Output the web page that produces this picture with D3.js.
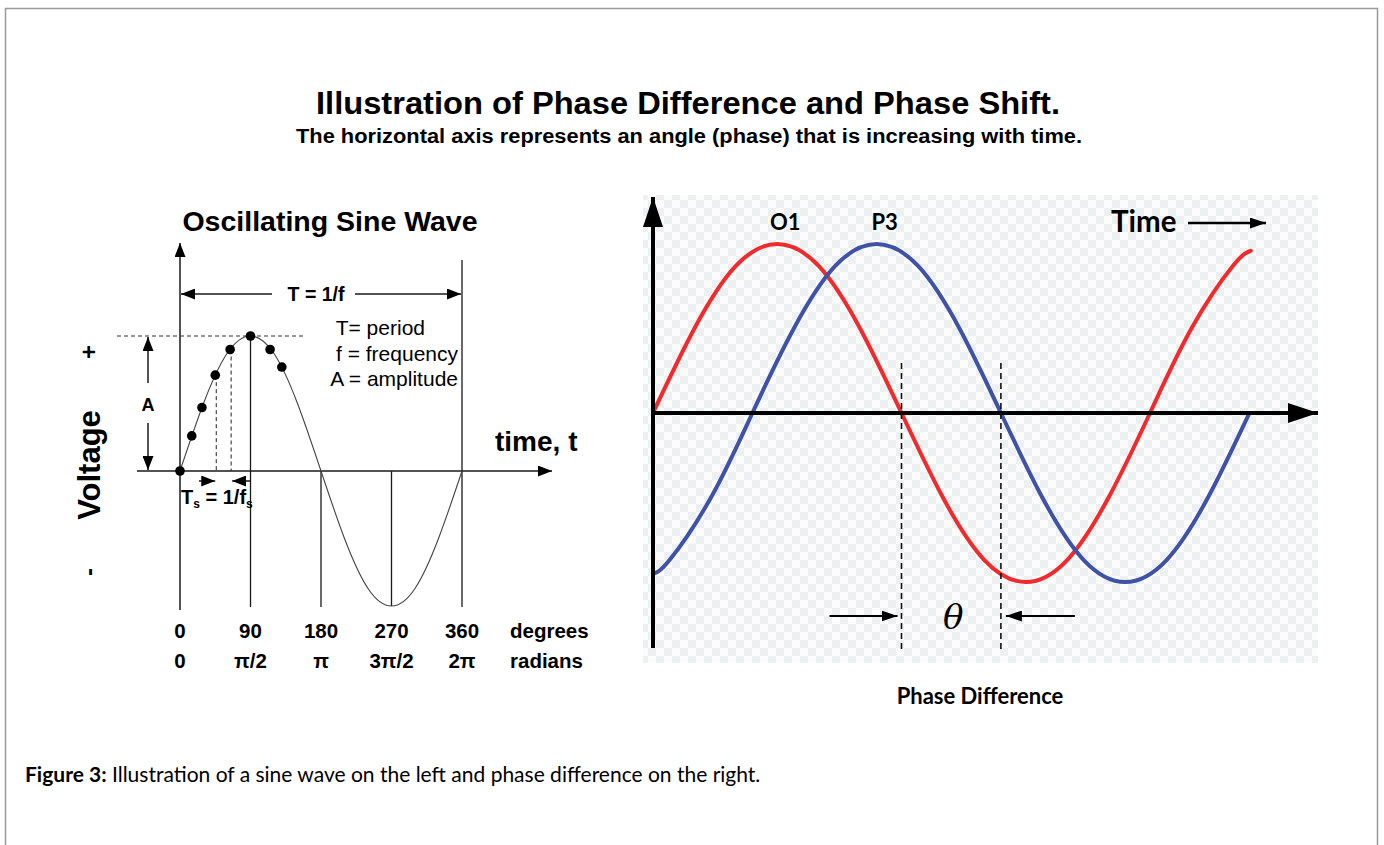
<!DOCTYPE html>
<html>
<head>
<meta charset="utf-8">
<script src="https://cdn.jsdelivr.net/npm/d3@7"></script>
<style>
  body { margin: 0; background: #fff; }
  svg { display: block; }
</style>
</head>
<body>
<svg id="chart" width="1384" height="845"></svg>
<script>
// ---- left panel: one cycle of the oscillating wave (read every 30 degrees)
var leftDegrees = [0, 30, 60, 90, 120, 150, 180, 210, 240, 270, 300, 330, 360];
var leftValues = [0, 0.5, 0.87, 1, 0.87, 0.5, 0, -0.5, -0.87, -1, -0.87, -0.5, 0];
// sample points (dots) on the rising part
var sampleDegrees = [0, 15, 28, 45, 64, 90, 115, 130];
var sampleValues = [0, 0.26, 0.47, 0.71, 0.9, 1, 0.9, 0.77];
var degreeTicks = [0, 90, 180, 270, 360];
var degreeLabels = ["0", "90", "180", "270", "360"];
var radianLabels = ["0", "\u03c0/2", "\u03c0", "3\u03c0/2", "2\u03c0"];
var legendLines = ["T= period", "f = frequency", "A = amplitude"];

// ---- right panel: two waves, P3 lags O1
var redDegrees = [0, 30, 60, 90, 120, 150, 180, 210, 240, 270, 300, 330, 360, 390, 420, 433];
var redValues = [0, 0.5, 0.87, 1, 0.87, 0.5, 0, -0.5, -0.87, -1, -0.87, -0.5, 0, 0.5, 0.87, 0.96];
var blueDegrees = [0, 12, 42, 72, 102, 132, 162, 192, 222, 252, 282, 312, 342, 372, 402, 432];
var blueValues = [-0.95, -0.87, -0.5, 0, 0.5, 0.87, 1, 0.87, 0.5, 0, -0.5, -0.87, -1, -0.87, -0.5, 0];
var phaseMarks = [180, 252];          // zero crossings of O1 and P3
var waveNames = ["O1", "P3"];
var wavePeaks = [90, 162];
var waveColors = ["#ef2b2d", "#4052a6"];

var arial = "'Liberation Sans', Arial, sans-serif";
var calibri = "Lato, 'Open Sans', sans-serif";

var svg = d3.select("#chart");

// arrow heads
var defs = svg.append("defs");
function marker(id, len, wid) {
  defs.append("marker")
    .attr("id", id)
    .attr("markerUnits", "userSpaceOnUse")
    .attr("viewBox", "0 0 " + len + " " + wid)
    .attr("refX", len).attr("refY", wid / 2)
    .attr("markerWidth", len).attr("markerHeight", wid)
    .attr("orient", "auto-start-reverse")
    .append("path")
    .attr("d", "M0,0L" + len + "," + (wid / 2) + "L0," + wid + "Z")
    .attr("fill", "#000");
}
marker("arrS", 14, 11);
marker("arrL", 30, 20);
marker("arrM", 16, 11);

var pat = defs.append("pattern")
  .attr("id", "checker")
  .attr("patternUnits", "userSpaceOnUse")
  .attr("width", 16).attr("height", 16);
pat.append("rect").attr("width", 16).attr("height", 16).attr("fill", "#fcfcfc");
pat.append("rect").attr("width", 8).attr("height", 8).attr("fill", "#edf0f0");
pat.append("rect").attr("x", 8).attr("y", 8).attr("width", 8).attr("height", 8).attr("fill", "#edf0f0");

// frame
svg.append("rect")
  .attr("x", 5.5).attr("y", 8.5)
  .attr("width", 1372).attr("height", 900)
  .attr("fill", "none").attr("stroke", "#9a9a9a").attr("stroke-width", 1.5);

// titles
svg.append("text")
  .attr("x", 688).attr("y", 114)
  .attr("text-anchor", "middle")
  .attr("font-family", arial).attr("font-weight", "bold").attr("font-size", 32)
  .attr("textLength", 744).attr("lengthAdjust", "spacingAndGlyphs")
  .text("Illustration of Phase Difference and Phase Shift.");
svg.append("text")
  .attr("x", 689).attr("y", 143)
  .attr("text-anchor", "middle")
  .attr("font-family", arial).attr("font-weight", "bold").attr("font-size", 19.5)
  .attr("textLength", 786).attr("lengthAdjust", "spacingAndGlyphs")
  .text("The horizontal axis represents an angle (phase) that is increasing with time.");

// ================= LEFT PANEL =================
var xL = d3.scaleLinear().domain([0, 360]).range([180, 462]);
var yL = d3.scaleLinear().domain([-1, 1]).range([606, 336]);
var left = svg.append("g").attr("stroke-linecap", "butt");
var ink = "#1a1a1a";

left.append("text")
  .attr("x", 330).attr("y", 231)
  .attr("text-anchor", "middle")
  .attr("font-family", arial).attr("font-weight", "bold").attr("font-size", 28.5)
  .text("Oscillating Sine Wave");

// axes
left.append("line")
  .attr("x1", xL(0)).attr("x2", xL(0)).attr("y1", 610).attr("y2", 243)
  .attr("stroke", ink).attr("stroke-width", 1.5)
  .attr("marker-end", "url(#arrS)");
left.append("line")
  .attr("x1", 137).attr("x2", 552).attr("y1", yL(0)).attr("y2", yL(0))
  .attr("stroke", ink).attr("stroke-width", 1.5)
  .attr("marker-end", "url(#arrS)");

// guide verticals
var guideTop = { 90: yL(1), 180: yL(0), 270: yL(0), 360: 260 };
var guideBottom = { 90: 607, 180: 607, 270: yL(-1), 360: 607 };
left.selectAll("line.guide")
  .data(degreeTicks.slice(1))
  .enter().append("line")
  .attr("class", "guide")
  .attr("x1", function (d) { return xL(d); })
  .attr("x2", function (d) { return xL(d); })
  .attr("y1", function (d) { return guideTop[d]; })
  .attr("y2", function (d) { return guideBottom[d]; })
  .attr("stroke", ink).attr("stroke-width", 1.3);

// amplitude dashed level
left.append("line")
  .attr("x1", 117).attr("x2", 305).attr("y1", yL(1)).attr("y2", yL(1))
  .attr("stroke", "#333").attr("stroke-width", 1).attr("stroke-dasharray", "4,3");

// the wave
var lineL = d3.line()
  .x(function (d) { return xL(d[0]); })
  .y(function (d) { return yL(d[1]); })
  .curve(d3.curveNatural);
left.append("path")
  .datum(d3.zip(leftDegrees, leftValues))
  .attr("d", lineL)
  .attr("fill", "none").attr("stroke", "#444").attr("stroke-width", 1.1);

// sampling interval dashes
left.selectAll("line.ts")
  .data([3, 4])
  .enter().append("line")
  .attr("x1", function (i) { return xL(sampleDegrees[i]) + 1; })
  .attr("x2", function (i) { return xL(sampleDegrees[i]) + 1; })
  .attr("y1", function (i) { return yL(sampleValues[i]); })
  .attr("y2", yL(0))
  .attr("stroke", "#222").attr("stroke-width", 1).attr("stroke-dasharray", "4,3");

left.selectAll("circle.sample")
  .data(d3.zip(sampleDegrees, sampleValues))
  .enter().append("circle")
  .attr("cx", function (d) { return xL(d[0]); })
  .attr("cy", function (d) { return yL(d[1]); })
  .attr("r", 4.8)
  .attr("fill", "#000");

// Ts arrows
left.append("line")
  .attr("x1", 199).attr("x2", xL(sampleDegrees[3])).attr("y1", 481).attr("y2", 481)
  .attr("stroke", ink).attr("stroke-width", 1.5).attr("marker-end", "url(#arrS)");
left.append("line")
  .attr("x1", 251).attr("x2", xL(sampleDegrees[4]) + 2).attr("y1", 481).attr("y2", 481)
  .attr("stroke", ink).attr("stroke-width", 1.5).attr("marker-end", "url(#arrS)");
var ts = left.append("text")
  .attr("x", 181).attr("y", 504)
  .attr("font-family", arial).attr("font-weight", "bold").attr("font-size", 20);
ts.append("tspan").text("T");
ts.append("tspan").attr("font-size", 12).attr("dy", 4).text("s");
ts.append("tspan").attr("dy", -4).text(" = 1/f");
ts.append("tspan").attr("font-size", 12).attr("dy", 4).text("s");

// period arrow
left.append("line")
  .attr("x1", 272).attr("x2", xL(0) + 1).attr("y1", 294).attr("y2", 294)
  .attr("stroke", ink).attr("stroke-width", 1.5).attr("marker-end", "url(#arrS)");
left.append("line")
  .attr("x1", 355).attr("x2", xL(360) - 1).attr("y1", 294).attr("y2", 294)
  .attr("stroke", ink).attr("stroke-width", 1.5).attr("marker-end", "url(#arrS)");
left.append("text")
  .attr("x", 316).attr("y", 301)
  .attr("text-anchor", "middle")
  .attr("font-family", arial).attr("font-weight", "bold").attr("font-size", 19.5)
  .text("T = 1/f");

// amplitude arrow
left.append("line")
  .attr("x1", 148).attr("x2", 148).attr("y1", 383).attr("y2", yL(1) + 1)
  .attr("stroke", ink).attr("stroke-width", 1.5).attr("marker-end", "url(#arrS)");
left.append("line")
  .attr("x1", 148).attr("x2", 148).attr("y1", 423).attr("y2", yL(0) - 1)
  .attr("stroke", ink).attr("stroke-width", 1.5).attr("marker-end", "url(#arrS)");
left.append("text")
  .attr("x", 148).attr("y", 411)
  .attr("text-anchor", "middle")
  .attr("font-family", arial).attr("font-weight", "bold").attr("font-size", 18)
  .text("A");

// legend: first line ends short of the 360 line, the other two sit flush against it
var legendRight = [425, 458, 458];
left.selectAll("text.legend")
  .data(legendLines)
  .enter().append("text")
  .attr("x", function (d, i) { return legendRight[i]; })
  .attr("y", function (d, i) { return 335 + i * 25.5; })
  .attr("text-anchor", "end")
  .attr("font-family", arial).attr("font-size", 21)
  .text(function (d) { return d; });

left.append("text")
  .attr("x", 495).attr("y", 451)
  .attr("font-family", arial).attr("font-weight", "bold").attr("font-size", 28)
  .text("time, t");

// y label
left.append("text")
  .attr("transform", "translate(100,465) rotate(-90)")
  .attr("text-anchor", "middle")
  .attr("font-family", arial).attr("font-weight", "bold").attr("font-size", 31)
  .text("Voltage");
left.append("text")
  .attr("transform", "translate(97,352) rotate(-90)")
  .attr("text-anchor", "middle")
  .attr("font-family", arial).attr("font-weight", "bold").attr("font-size", 24)
  .text("+");
left.append("text")
  .attr("transform", "translate(97,572) rotate(-90)")
  .attr("text-anchor", "middle")
  .attr("font-family", arial).attr("font-weight", "bold").attr("font-size", 24)
  .text("-");

// tick labels
var tickRows = [degreeLabels, radianLabels];
var rowNames = ["degrees", "radians"];
tickRows.forEach(function (labels, r) {
  left.selectAll("text.tick" + r)
    .data(degreeTicks)
    .enter().append("text")
    .attr("x", function (d) { return xL(d); })
    .attr("y", 638 + r * 30)
    .attr("text-anchor", "middle")
    .attr("font-family", arial).attr("font-weight", "bold").attr("font-size", 20.5)
    .text(function (d, i) { return labels[i]; });
  left.append("text")
    .attr("x", 510).attr("y", 638 + r * 30)
    .attr("font-family", arial).attr("font-weight", "bold").attr("font-size", 20.5)
    .text(rowNames[r]);
});

// ================= RIGHT PANEL =================
var xR = d3.scaleLinear().domain([0, 360]).range([653, 1150]);
var yR = d3.scaleLinear().domain([-1, 1]).range([582, 244]);
var right = svg.append("g");

right.append("rect")
  .attr("x", 643).attr("y", 195).attr("width", 675).attr("height", 468)
  .attr("fill", "url(#checker)");

var lineR = d3.line()
  .x(function (d) { return xR(d[0]); })
  .y(function (d) { return yR(d[1]); })
  .curve(d3.curveNatural);

var waves = [d3.zip(redDegrees, redValues), d3.zip(blueDegrees, blueValues)];
right.selectAll("path.wave")
  .data(waves)
  .enter().append("path")
  .attr("class", "wave")
  .attr("d", lineR)
  .attr("fill", "none")
  .attr("stroke", function (d, i) { return waveColors[i]; })
  .attr("stroke-width", 4)
  .attr("stroke-linecap", "round");

// axes
right.append("line")
  .attr("x1", xR(0)).attr("x2", 1318).attr("y1", yR(0)).attr("y2", yR(0))
  .attr("stroke", "#000").attr("stroke-width", 4).attr("marker-end", "url(#arrL)");
right.append("line")
  .attr("x1", xR(0)).attr("x2", xR(0)).attr("y1", 648).attr("y2", 197)
  .attr("stroke", "#000").attr("stroke-width", 4).attr("marker-end", "url(#arrL)");

// phase markers
right.selectAll("line.mark")
  .data(phaseMarks)
  .enter().append("line")
  .attr("x1", function (d) { return xR(d); })
  .attr("x2", function (d) { return xR(d); })
  .attr("y1", 363).attr("y2", 650)
  .attr("stroke", "#111").attr("stroke-width", 1.6).attr("stroke-dasharray", "6,4");

right.append("line")
  .attr("x1", xR(phaseMarks[0]) - 72).attr("x2", xR(phaseMarks[0]) - 4)
  .attr("y1", 616).attr("y2", 616)
  .attr("stroke", "#000").attr("stroke-width", 2).attr("marker-end", "url(#arrM)");
right.append("line")
  .attr("x1", xR(phaseMarks[1]) + 74).attr("x2", xR(phaseMarks[1]) + 5)
  .attr("y1", 616).attr("y2", 616)
  .attr("stroke", "#000").attr("stroke-width", 2).attr("marker-end", "url(#arrM)");
right.append("text")
  .attr("x", (xR(phaseMarks[0]) + xR(phaseMarks[1])) / 2 + 2).attr("y", 629)
  .attr("text-anchor", "middle")
  .attr("font-family", "'DejaVu Serif', serif").attr("font-style", "italic").attr("font-size", 34)
  .text("\u03b8");

// wave names
right.selectAll("text.name")
  .data(waveNames)
  .enter().append("text")
  .attr("x", function (d, i) { return xR(wavePeaks[i]) + 8; })
  .attr("y", 230)
  .attr("text-anchor", "middle")
  .attr("font-family", calibri).attr("font-weight", "bold").attr("font-size", 22)
  .text(function (d) { return d; });

right.append("text")
  .attr("x", 1111).attr("y", 232)
  .attr("font-family", calibri).attr("font-weight", "bold").attr("font-size", 29.5)
  .text("Time");
right.append("line")
  .attr("x1", 1188).attr("x2", 1266).attr("y1", 223).attr("y2", 223)
  .attr("stroke", "#000").attr("stroke-width", 2.5).attr("marker-end", "url(#arrM)");

right.append("text")
  .attr("x", 980).attr("y", 704)
  .attr("text-anchor", "middle")
  .attr("font-family", calibri).attr("font-weight", "bold").attr("font-size", 22)
  .text("Phase Difference");

// caption
var cap = svg.append("text")
  .attr("x", 25).attr("y", 782)
  .attr("font-family", calibri).attr("font-size", 21);
cap.append("tspan").attr("font-weight", "bold").text("Figure 3:");
cap.append("tspan").text(" Illustration of a sine wave on the left and phase difference on the right.");
</script>
</body>
</html>
